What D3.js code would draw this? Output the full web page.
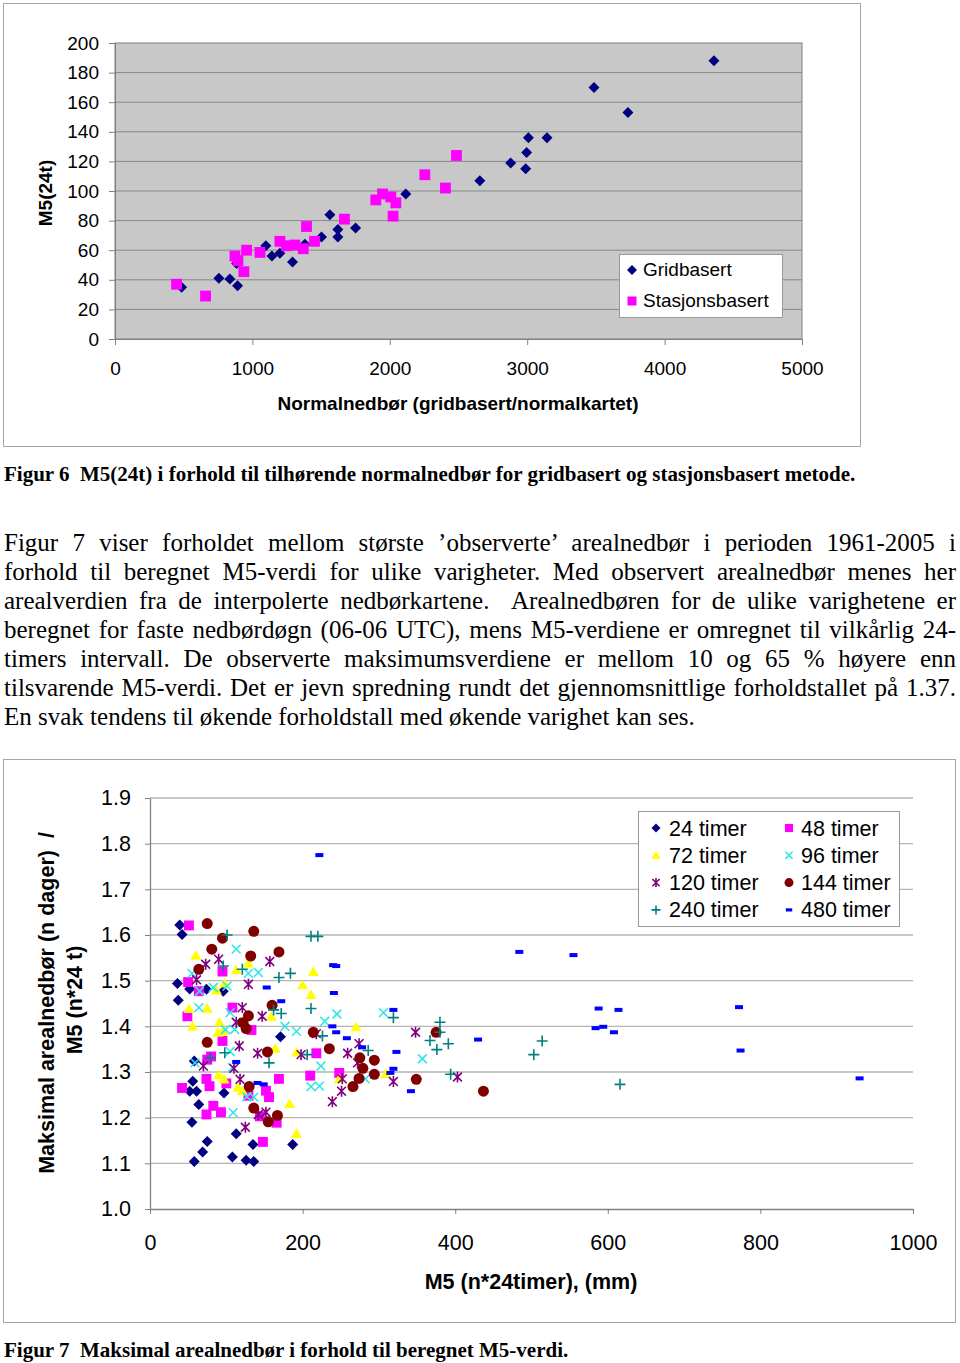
<!DOCTYPE html>
<html>
<head>
<meta charset="utf-8">
<script src="https://cdn.jsdelivr.net/npm/d3@7"></script>
<style>
  body { margin: 0; background: #fff; }
</style>
</head>
<body>
<div id="page"></div>
<script>
// --- Figur 6 data: [normalnedbør, M5(24t)]
var gridbasert = [[485,35],[756,41],[836,40.5],[892,36],[885,51],[1098,63],[1142,56],[1200,58],
  [1292,52],[1382,64],[1503,69],[1564,84],[1622,74],[1622,69],[1751,75],[2116,98],[2655,107],
  [2880,119],[2989,115],[2996,126],[3009,136],[3144,136],[3486,170],[3733,153],[4359,188]];
var stasjonsbasert = [[448,37],[659,29],[873,56],[895,53],[938,45.5],[958,60],[1055,58.5],
  [1200,66],[1248,63],[1309,63.5],[1370,61],[1394,76],[1452,66],[1670,81],[1898,94],[1947,98],
  [2007,96],[2044,92],[2024,83],[2255,111],[2405,102],[2485,124]];
var fig6XTicks = [0, 1000, 2000, 3000, 4000, 5000];
var fig6YTicks = [0, 20, 40, 60, 80, 100, 120, 140, 160, 180, 200];

// --- Figur 7 data: [M5 (mm), forholdstall]
var t24 = [[39,1.622],[42,1.601],[36,1.494],[52,1.482],[37,1.457],[74,1.481],[96,1.477],[58,1.324],
  [56,1.280],[52,1.258],[61,1.258],[64,1.229],[97,1.254],[55,1.190],[113,1.165],[75,1.148],[69,1.125],
  [58,1.104],[108,1.114],[126,1.107],[136,1.104],[135,1.141],[187,1.141],[171,1.377]];
var t48 = [[51,1.621],[95,1.520],[50,1.497],[64,1.477],[49,1.422],[108,1.441],[95,1.368],[75,1.327],
  [80,1.334],[42,1.265],[74,1.285],[78,1.269],[100,1.275],[83,1.226],[93,1.212],[74,1.207],[133,1.392],
  [129,1.248],[152,1.259],[156,1.245],[169,1.285],[210,1.292],[218,1.341],[144,1.203],[166,1.189],
  [148,1.147],[248,1.298]];
var t72 = [[60,1.555],[113,1.523],[129,1.538],[87,1.479],[98,1.494],[214,1.519],[200,1.490],[211,1.469],
  [51,1.438],[75,1.439],[91,1.409],[56,1.400],[89,1.386],[96,1.389],[164,1.351],[192,1.343],[90,1.293],
  [97,1.284],[115,1.266],[121,1.258],[183,1.230],[192,1.165],[159,1.421],[270,1.398],[309,1.296],[248,1.285]];
var t96 = [[113,1.569],[129,1.516],[142,1.518],[55,1.516],[65,1.477],[83,1.485],[101,1.488],[64,1.441],
  [105,1.430],[99,1.393],[111,1.393],[177,1.400],[192,1.389],[229,1.411],[245,1.427],[224,1.313],
  [211,1.268],[222,1.269],[59,1.320],[105,1.345],[108,1.310],[127,1.246],[136,1.245],[109,1.211],
  [306,1.430],[357,1.329],[282,1.285]];
var t120 = [[73,1.536],[90,1.547],[157,1.542],[61,1.502],[129,1.492],[121,1.441],[147,1.422],[113,1.409],
  [117,1.357],[141,1.341],[70,1.313],[110,1.308],[118,1.284],[198,1.338],[152,1.212],[125,1.179],
  [142,1.207],[239,1.235],[218,1.384],[259,1.341],[274,1.362],[272,1.320],[348,1.387],[319,1.279],
  [403,1.289],[252,1.285],[251,1.258]];
var t144 = [[75,1.625],[136,1.608],[95,1.593],[81,1.569],[132,1.554],[169,1.563],[64,1.525],[160,1.446],
  [129,1.423],[122,1.408],[126,1.395],[75,1.365],[154,1.344],[214,1.387],[235,1.351],[130,1.268],
  [136,1.221],[155,1.191],[167,1.205],[375,1.387],[275,1.331],[294,1.326],[279,1.308],[294,1.295],
  [274,1.286],[266,1.268],[349,1.284],[437,1.258]];
var t240 = [[101,1.600],[211,1.597],[220,1.597],[121,1.525],[96,1.532],[169,1.507],[184,1.516],[162,1.436],
  [172,1.428],[211,1.439],[98,1.342],[156,1.320],[226,1.379],[79,1.331],[206,1.338],[319,1.419],
  [286,1.347],[380,1.409],[380,1.387],[367,1.369],[391,1.362],[376,1.349],[394,1.295],[514,1.368],
  [503,1.338],[616,1.273]];
var t480 = [[222,1.775],[153,1.485],[172,1.455],[113,1.322],[141,1.276],[149,1.273],[240,1.534],[244,1.532],
  [241,1.473],[319,1.436],[239,1.400],[244,1.387],[258,1.374],[278,1.354],[323,1.344],[319,1.307],
  [315,1.298],[342,1.258],[430,1.371],[484,1.563],[555,1.556],[588,1.439],[614,1.436],[584,1.396],
  [594,1.399],[608,1.387],[772,1.442],[774,1.347],[930,1.286]];
var fig7XTicks = [0, 200, 400, 600, 800, 1000];
var fig7YTicks = [1.0, 1.1, 1.2, 1.3, 1.4, 1.5, 1.6, 1.7, 1.8, 1.9];

var seriesNames = ["24 timer", "48 timer", "72 timer", "96 timer", "120 timer", "144 timer", "240 timer", "480 timer"];
var seriesData = [t24, t48, t72, t96, t120, t144, t240, t480];
var seriesShape = ["diamond", "square", "triangle", "cross", "star", "circle", "plus", "dash"];
var seriesColor = ["#000080", "#ff00ff", "#ffff00", "#33e6e6", "#800080", "#800000", "#008080", "#0000ff"];

var paraLines = [
  "Figur 7 viser forholdet mellom største ’observerte’ arealnedbør i perioden 1961-2005 i",
  "forhold til beregnet M5-verdi for ulike varigheter. Med observert arealnedbør menes her",
  "arealverdien fra de interpolerte nedbørkartene.  Arealnedbøren for de ulike varighetene er",
  "beregnet for faste nedbørdøgn (06-06 UTC), mens M5-verdiene er omregnet til vilkårlig 24-",
  "timers intervall. De observerte maksimumsverdiene er mellom 10 og 65 % høyere enn",
  "tilsvarende M5-verdi. Det er jevn spredning rundt det gjennomsnittlige forholdstallet på 1.37.",
  "En svak tendens til økende forholdstall med økende varighet kan ses."
];

var sans = "'Liberation Sans', Arial, sans-serif";
var serif = "'Liberation Serif', 'Times New Roman', serif";

// draws one marker of the given shape at (x, y)
function drawMarker(g, shape, x, y, color, s) {
  if (shape == "diamond") {
    g.append("path").attr("d", `M${x},${y-s}L${x+s},${y}L${x},${y+s}L${x-s},${y}Z`).attr("fill", color);
  } else if (shape == "square") {
    g.append("rect").attr("x", x-s*0.9).attr("y", y-s*0.9).attr("width", s*1.8).attr("height", s*1.8).attr("fill", color);
  } else if (shape == "triangle") {
    g.append("path").attr("d", `M${x},${y-s}L${x+s},${y+s*0.75}L${x-s},${y+s*0.75}Z`).attr("fill", color);
  } else if (shape == "circle") {
    g.append("circle").attr("cx", x).attr("cy", y).attr("r", s).attr("fill", color);
  } else if (shape == "dash") {
    g.append("rect").attr("x", x-s*0.8).attr("y", y-s*0.4).attr("width", s*1.6).attr("height", s*0.8).attr("fill", color);
  } else {
    var d = "";
    if (shape == "cross" || shape == "star") d += `M${x-s*0.8},${y-s*0.8}L${x+s*0.8},${y+s*0.8}M${x-s*0.8},${y+s*0.8}L${x+s*0.8},${y-s*0.8}`;
    if (shape == "star") d += `M${x},${y-s}L${x},${y+s}`;
    if (shape == "plus") d += `M${x-s},${y}L${x+s},${y}M${x},${y-s}L${x},${y+s}`;
    g.append("path").attr("d", d).attr("stroke", color).attr("stroke-width", 1.6).attr("fill", "none");
  }
}

var svg = d3.select("#page").append("svg")
  .attr("width", 960)
  .attr("height", 1363)
  .style("display", "block");

// ================= Figur 6 =================
svg.append("rect").attr("x", 3.5).attr("y", 3.5).attr("width", 857).attr("height", 443)
  .attr("fill", "#fff").attr("stroke", "#a6a6a6");

var x6 = d3.scaleLinear().domain([0, 5000]).range([115, 802]);
var y6 = d3.scaleLinear().domain([0, 200]).range([339, 43]);

var fig6 = svg.append("g");
fig6.append("rect").attr("x", x6(0)).attr("y", y6(200)).attr("width", x6(5000) - x6(0)).attr("height", y6(0) - y6(200))
  .attr("fill", "#c8c8c8").attr("stroke", "#808080");

fig6.selectAll(".grid6").data(fig6YTicks.slice(1, -1)).enter().append("line")
  .attr("x1", x6(0)).attr("x2", x6(5000))
  .attr("y1", d => y6(d)).attr("y2", d => y6(d))
  .attr("stroke", "#888");

var ax6y = fig6.append("g").attr("transform", `translate(${x6(0)},0)`)
  .call(d3.axisLeft(y6).tickValues(fig6YTicks).tickSize(6).tickSizeOuter(0).tickPadding(10));
var ax6x = fig6.append("g").attr("transform", `translate(0,${y6(0)})`)
  .call(d3.axisBottom(x6).tickValues(fig6XTicks).tickSize(6).tickSizeOuter(0).tickPadding(17).tickFormat(d3.format("d")));
[ax6y, ax6x].forEach(function(a) {
  a.selectAll("path").attr("stroke", "#808080");
  a.selectAll("line").attr("stroke", "#808080");
  a.selectAll("text").attr("font-family", sans).attr("font-size", "19px").attr("fill", "#000");
});

gridbasert.forEach(function(d) {
  drawMarker(fig6, "diamond", x6(d[0]), y6(d[1]), "#000080", 5.5);
});
stasjonsbasert.forEach(function(d) {
  drawMarker(fig6, "square", x6(d[0]), y6(d[1]), "#ff00ff", 6);
});

fig6.append("text").attr("transform", "translate(45,193) rotate(-90)")
  .attr("text-anchor", "middle").attr("dy", "0.35em")
  .attr("font-family", sans).attr("font-weight", "bold").attr("font-size", "19px")
  .text("M5(24t)");
fig6.append("text").attr("x", 458).attr("y", 410).attr("text-anchor", "middle")
  .attr("font-family", sans).attr("font-weight", "bold").attr("font-size", "19px")
  .text("Normalnedbør (gridbasert/normalkartet)");

var leg6 = fig6.append("g");
leg6.append("rect").attr("x", 619.5).attr("y", 254.5).attr("width", 163).attr("height", 63)
  .attr("fill", "#fff").attr("stroke", "#999");
drawMarker(leg6, "diamond", 632, 270, "#000080", 5);
drawMarker(leg6, "square", 632, 301, "#ff00ff", 5);
leg6.append("text").attr("x", 643).attr("y", 276).attr("font-family", sans).attr("font-size", "19px").text("Gridbasert");
leg6.append("text").attr("x", 643).attr("y", 307).attr("font-family", sans).attr("font-size", "19px").text("Stasjonsbasert");

svg.append("text").attr("x", 4).attr("y", 481)
  .attr("font-family", serif).attr("font-weight", "bold").attr("font-size", "21px")
  .attr("xml:space", "preserve")
  .text("Figur 6  M5(24t) i forhold til tilhørende normalnedbør for gridbasert og stasjonsbasert metode.");

// ================= paragraph (justified by word spacing) =================
paraLines.forEach(function(line, i) {
  var t = svg.append("text").attr("x", 4).attr("y", 551 + i * 29)
    .attr("font-family", serif).attr("font-size", "25px")
    .attr("xml:space", "preserve")
    .text(line);
  if (i < paraLines.length - 1) {
    var w = t.node().getComputedTextLength();
    var n = (line.match(/ /g) || []).length;
    t.attr("word-spacing", ((952 - w) / n).toFixed(2));
  }
});

// ================= Figur 7 =================
svg.append("rect").attr("x", 3.5).attr("y", 759.5).attr("width", 952).attr("height", 563)
  .attr("fill", "none").attr("stroke", "#a6a6a6");

var x7 = d3.scaleLinear().domain([0, 1000]).range([150, 913]);
var y7 = d3.scaleLinear().domain([1.0, 1.9]).range([1209, 798]);

var fig7 = svg.append("g");
fig7.selectAll(".grid7").data(fig7YTicks.slice(1)).enter().append("line")
  .attr("x1", x7(0)).attr("x2", x7(1000))
  .attr("y1", d => y7(d)).attr("y2", d => y7(d))
  .attr("stroke", "#b4b4b4").attr("stroke-width", 1.3);

var ax7y = fig7.append("g").attr("transform", `translate(${x7(0)},0)`)
  .call(d3.axisLeft(y7).tickValues(fig7YTicks).tickSize(5).tickSizeOuter(0).tickPadding(14).tickFormat(d3.format(".1f")));
var ax7x = fig7.append("g").attr("transform", `translate(0,${y7(1.0)})`)
  .call(d3.axisBottom(x7).tickValues(fig7XTicks).tickSize(5).tickSizeOuter(0).tickPadding(21).tickFormat(d3.format("d")));
[ax7y, ax7x].forEach(function(a) {
  a.selectAll("path").attr("stroke", "#808080").attr("stroke-width", 1.3);
  a.selectAll("line").attr("stroke", "#808080");
  a.selectAll("text").attr("font-family", sans).attr("font-size", "21.5px").attr("fill", "#000");
});

seriesData.forEach(function(data, i) {
  var g = fig7.append("g");
  data.forEach(function(d) {
    drawMarker(g, seriesShape[i], x7(d[0]), y7(d[1]), seriesColor[i], seriesShape[i] == "dash" ? 5 : 5.5);
  });
});

fig7.append("text").attr("transform", "translate(46,1003) rotate(-90)")
  .attr("text-anchor", "middle").attr("dy", "0.35em").attr("xml:space", "preserve")
  .attr("font-family", sans).attr("font-weight", "bold").attr("font-size", "21.5px")
  .text("Maksimal arealnedbør (n dager)  /");
fig7.append("text").attr("transform", "translate(74,1000) rotate(-90)")
  .attr("text-anchor", "middle").attr("dy", "0.35em")
  .attr("font-family", sans).attr("font-weight", "bold").attr("font-size", "21.5px")
  .text("M5 (n*24 t)");
fig7.append("text").attr("x", 531).attr("y", 1289).attr("text-anchor", "middle")
  .attr("font-family", sans).attr("font-weight", "bold").attr("font-size", "21.5px")
  .text("M5 (n*24timer), (mm)");

var leg7 = fig7.append("g");
leg7.append("rect").attr("x", 638.5).attr("y", 811.5).attr("width", 261).attr("height", 115)
  .attr("fill", "#fff").attr("stroke", "#999");
seriesNames.forEach(function(name, i) {
  var col = i % 2, row = Math.floor(i / 2);
  var mx = col == 0 ? 656 : 789, ty = 828 + row * 27.3;
  drawMarker(leg7, seriesShape[i], mx, ty, seriesColor[i], seriesShape[i] == "dash" ? 4 : 4.5);
  leg7.append("text").attr("x", col == 0 ? 669 : 801).attr("y", ty).attr("dy", "0.35em")
    .attr("font-family", sans).attr("font-size", "21.5px").text(name);
});

svg.append("text").attr("x", 4).attr("y", 1357)
  .attr("font-family", serif).attr("font-weight", "bold").attr("font-size", "21px")
  .attr("xml:space", "preserve")
  .text("Figur 7  Maksimal arealnedbør i forhold til beregnet M5-verdi.");
</script>
</body>
</html>
